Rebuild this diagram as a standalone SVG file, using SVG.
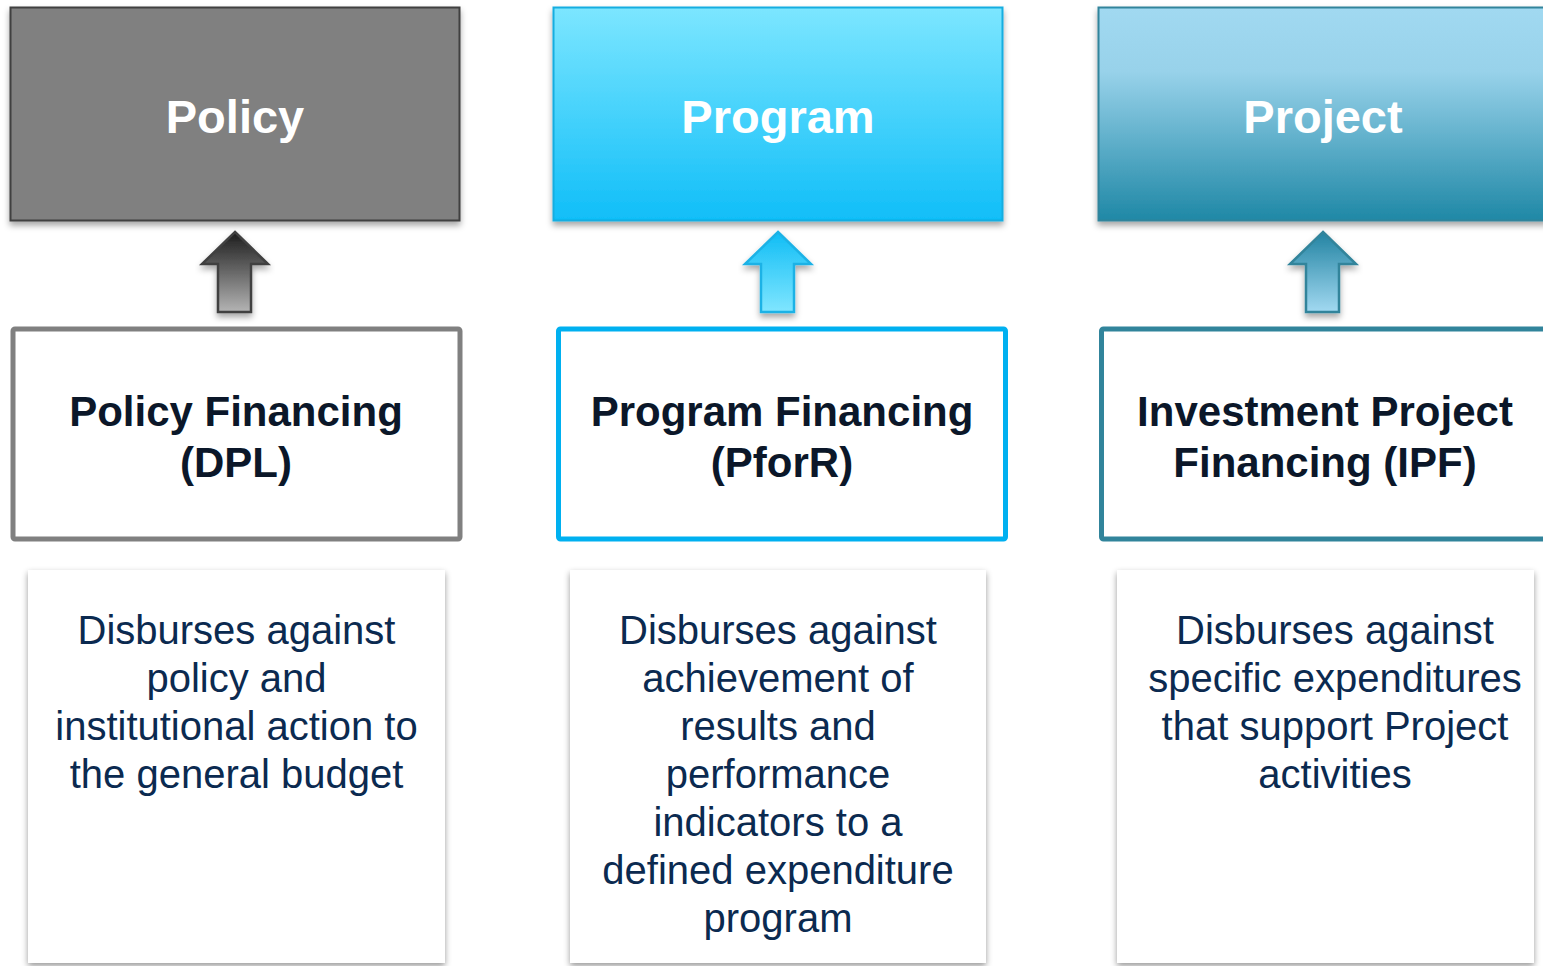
<svg xmlns="http://www.w3.org/2000/svg" width="1543" height="966" viewBox="0 0 1543 966">
  <defs>
    <linearGradient id="gProgramTop" x1="0" y1="0" x2="0" y2="1">
      <stop offset="0" stop-color="#7ce6ff"/>
      <stop offset="1" stop-color="#10bef8"/>
    </linearGradient>
    <linearGradient id="gProjectTop" x1="0" y1="0" x2="0" y2="1">
      <stop offset="0" stop-color="#a1d9f1"/>
      <stop offset="0.3" stop-color="#98d2ea"/>
      <stop offset="1" stop-color="#1f88a6"/>
    </linearGradient>
    <linearGradient id="gPolicyArrow" x1="0" y1="0" x2="0" y2="1">
      <stop offset="0" stop-color="#1c1c1c"/>
      <stop offset="1" stop-color="#b4b4b4"/>
    </linearGradient>
    <linearGradient id="gProgramArrow" x1="0" y1="0" x2="0" y2="1">
      <stop offset="0" stop-color="#10bdf5"/>
      <stop offset="1" stop-color="#80e6ff"/>
    </linearGradient>
    <linearGradient id="gProjectArrow" x1="0" y1="0" x2="0" y2="1">
      <stop offset="0" stop-color="#2283a2"/>
      <stop offset="1" stop-color="#a2d9f1"/>
    </linearGradient>
    <filter id="dropShadow" x="-10%" y="-10%" width="120%" height="125%">
      <feDropShadow dx="0" dy="4" stdDeviation="3" flood-color="#000" flood-opacity="0.35"/>
    </filter>
    <filter id="cardShadow" x="-5%" y="-5%" width="110%" height="110%">
      <feDropShadow dx="0" dy="3" stdDeviation="3" flood-color="#000" flood-opacity="0.4"/>
    </filter>
    <style>
      .head { font-family: "Liberation Sans", Arial, sans-serif; font-weight: bold; font-size: 47px; fill: #ffffff; text-anchor: middle; }
      .title { font-family: "Liberation Sans", Arial, sans-serif; font-weight: bold; font-size: 42px; fill: #0b1729; text-anchor: middle; }
      .body { font-family: "Liberation Sans", Arial, sans-serif; font-size: 40px; fill: #0b2a50; text-anchor: middle; }
      .frame { fill: #ffffff; stroke-width: 5; }
      .card { fill: #ffffff; filter: url(#cardShadow); }
      .arrow { stroke-width: 2.5; stroke-linejoin: miter; filter: url(#dropShadow); }
    </style>
  </defs>

  <rect width="1543" height="966" fill="#ffffff"/>

  <!-- top category boxes -->
  <g id="policy">
    <rect x="10.5" y="7.5" width="449" height="213" fill="#808080" stroke="#3f3f3f" stroke-width="2" filter="url(#dropShadow)"/>
    <text class="head" x="235" y="133">Policy</text>
  </g>
  <g id="program">
    <rect x="553.5" y="7.5" width="449" height="213" fill="url(#gProgramTop)" stroke="#12ade0" stroke-width="2" filter="url(#dropShadow)"/>
    <text class="head" x="778" y="133">Program</text>
  </g>
  <g id="project">
    <rect x="1098.5" y="7.5" width="449" height="213" fill="url(#gProjectTop)" stroke="#31849b" stroke-width="2" filter="url(#dropShadow)"/>
    <text class="head" x="1323" y="133">Project</text>
  </g>

  <!-- upward arrows linking each instrument to its category -->
  <g id="connectors">
    <path class="arrow" d="M235,232 L268,264 L251,264 L251,312 L218,312 L218,264 L202,264 Z" fill="url(#gPolicyArrow)" stroke="#404040"/>
    <path class="arrow" d="M778,232 L811,264 L794,264 L794,312 L761,312 L761,264 L745,264 Z" fill="url(#gProgramArrow)" stroke="#1db2e6"/>
    <path class="arrow" d="M1323,232 L1356,264 L1339,264 L1339,312 L1306,312 L1306,264 L1290,264 Z" fill="url(#gProjectArrow)" stroke="#31849b"/>
  </g>

  <!-- financing instrument boxes -->
  <g id="dpl">
    <rect class="frame" x="13" y="329" width="447" height="210" rx="2" stroke="#808080"/>
    <text class="title" x="236" y="426">Policy Financing</text>
    <text class="title" x="236" y="477">(DPL)</text>
  </g>
  <g id="pforr">
    <rect class="frame" x="558.5" y="329" width="447" height="210" rx="2" stroke="#00b0f0"/>
    <text class="title" x="782" y="426">Program Financing</text>
    <text class="title" x="782" y="477">(PforR)</text>
  </g>
  <g id="ipf">
    <rect class="frame" x="1101.5" y="329" width="447" height="210" rx="2" stroke="#31849b"/>
    <text class="title" x="1325" y="426">Investment Project</text>
    <text class="title" x="1325" y="477">Financing (IPF)</text>
  </g>

  <!-- description cards -->
  <g id="dpl-desc">
    <rect class="card" x="28" y="570" width="417" height="393"/>
    <text class="body" x="236.5" y="644">Disburses against</text>
    <text class="body" x="236.5" y="692">policy and</text>
    <text class="body" x="236.5" y="740">institutional action to</text>
    <text class="body" x="236.5" y="788">the general budget</text>
  </g>
  <g id="pforr-desc">
    <rect class="card" x="570" y="570" width="416" height="393"/>
    <text class="body" x="778" y="644">Disburses against</text>
    <text class="body" x="778" y="692">achievement of</text>
    <text class="body" x="778" y="740">results and</text>
    <text class="body" x="778" y="788">performance</text>
    <text class="body" x="778" y="836">indicators to a</text>
    <text class="body" x="778" y="884">defined expenditure</text>
    <text class="body" x="778" y="932">program</text>
  </g>
  <g id="ipf-desc">
    <rect class="card" x="1117" y="570" width="417" height="393"/>
    <text class="body" x="1335" y="644">Disburses against</text>
    <text class="body" x="1335" y="692">specific expenditures</text>
    <text class="body" x="1335" y="740">that support Project</text>
    <text class="body" x="1335" y="788">activities</text>
  </g>
</svg>
